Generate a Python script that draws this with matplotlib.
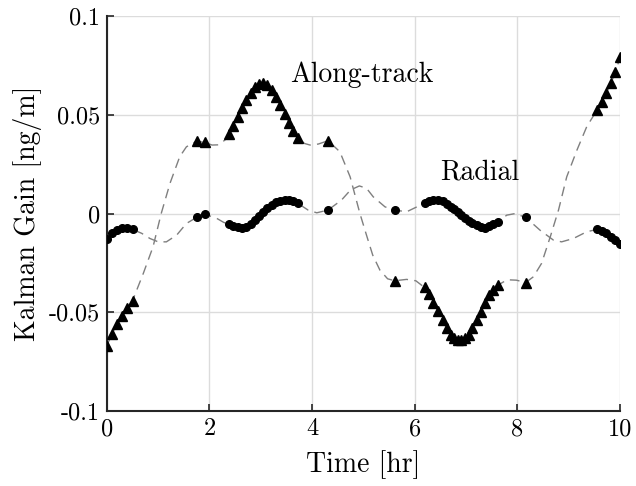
import numpy as np
import matplotlib
matplotlib.use('Agg')
import matplotlib.pyplot as plt


# ============================================================================
# Data (time in hr, gain in ng/m)
# ============================================================================

# times at which the filter had a measurement (markers)
obs_t = [0.0, 0.1, 0.2, 0.3, 0.4, 0.5,
         1.75, 1.91,
         2.38, 2.46, 2.55, 2.63, 2.72, 2.80, 2.88, 2.97, 3.05, 3.13, 3.22,
         3.30, 3.38, 3.47, 3.55, 3.63, 3.72,
         4.31,
         5.61,
         6.19, 6.28, 6.36, 6.45, 6.54, 6.62, 6.71, 6.77, 6.84, 6.90, 6.97,
         7.05, 7.12, 7.21, 7.29, 7.37, 7.45, 7.53, 7.62,
         8.16,
         9.55, 9.64, 9.73, 9.82, 9.91, 10.0]

along_obs = [-0.0668, -0.0610, -0.0557, -0.0518, -0.0480, -0.0441,
             0.0367, 0.0360,
             0.0405, 0.0445, 0.0490, 0.0535, 0.0575, 0.0610, 0.0640, 0.0657,
             0.0660, 0.0650, 0.0625, 0.0590, 0.0550, 0.0505, 0.0460, 0.0420,
             0.0385,
             0.0369,
             -0.0340,
             -0.0374, -0.0408, -0.0452, -0.0492, -0.0539, -0.0581, -0.0615,
             -0.0632, -0.0640, -0.0640, -0.0632, -0.0615, -0.0581, -0.0539,
             -0.0497, -0.0455, -0.0413, -0.0387, -0.0362,
             -0.0349,
             0.0524, 0.0566, 0.0609, 0.0659, 0.0718, 0.0791]

radial_obs = [-0.0131, -0.0100, -0.0084, -0.0075, -0.0072, -0.0080,
              -0.0019, -0.0003,
              -0.0052, -0.0063, -0.0070, -0.0072, -0.0066, -0.0052, -0.0034,
              -0.0012, 0.0010, 0.0030, 0.0046, 0.0058, 0.0066, 0.0070, 0.0068,
              0.0062, 0.0052,
              0.0018,
              0.0018,
              0.0052, 0.0063, 0.0071, 0.0071, 0.0062, 0.0050, 0.0034, 0.0022,
              0.0008, -0.0006, -0.0020, -0.0035, -0.0048, -0.0060, -0.0070,
              -0.0072, -0.0064, -0.0055, -0.0044,
              -0.0019,
              -0.0080, -0.0088, -0.0100, -0.0116, -0.0136, -0.0154]

# gain between the measurement windows (dashed curves)
along_gap_t = [0.71, 0.90, 1.06, 1.23, 1.42, 1.55,
               2.05, 2.17, 2.30,
               3.85, 3.96, 4.12,
               4.54, 4.74, 4.93, 5.06, 5.18, 5.32, 5.47,
               5.84, 6.02,
               7.80, 7.98,
               8.31, 8.47, 8.64, 8.80, 8.96, 9.16, 9.35]
along_gap = [-0.0303, -0.0168, 0.0001, 0.0153, 0.0288, 0.0338,
             0.0347, 0.0348, 0.0372,
             0.0355, 0.0347, 0.0352,
             0.0313, 0.0186, 0.0001, -0.0110, -0.0210, -0.0286, -0.0330,
             -0.0333, -0.0340,
             -0.0335, -0.0337,
             -0.0320, -0.0252, -0.0117, 0.0018, 0.0186, 0.0322, 0.0440]

radial_gap_t = [0.68, 0.84, 1.00, 1.16, 1.36, 1.55,
                2.14, 2.28,
                3.92, 4.09,
                4.57, 4.75, 4.92, 5.06, 5.19, 5.42,
                5.84, 6.04,
                7.79, 7.95,
                8.44, 8.70, 8.86, 9.09, 9.35]
radial_gap = [-0.0100, -0.0126, -0.0143, -0.0143, -0.0109, -0.0050,
              -0.0024, -0.0045,
              0.0018, 0.0004,
              0.0068, 0.0120, 0.0140, 0.0128, 0.0085, 0.0034,
              0.0009, 0.0034,
              -0.0008, 0.0000,
              -0.0084, -0.0134, -0.0143, -0.0126, -0.0092]

x_ticks = [0, 2, 4, 6, 8, 10]
y_ticks = [-0.1, -0.05, 0, 0.05, 0.1]
y_tick_labels = ['-0.1', '-0.05', '0', '0.05', '0.1']


def full_curve(gap_t, gap_v, obs_v):
    # merge the gap points with the measurement points, sorted in time
    t = np.concatenate([gap_t, obs_t])
    v = np.concatenate([gap_v, obs_v])
    order = np.argsort(t)
    return t[order], v[order]


# ============================================================================
# PLOT
# ============================================================================

plt.rcParams['font.family'] = 'serif'
plt.rcParams['font.serif'] = ['cmr10', 'DejaVu Serif']
plt.rcParams['mathtext.fontset'] = 'cm'

fig = plt.figure(figsize=(6.36, 4.86), dpi=100)
ax = fig.add_axes([0.168, 0.154, 0.807, 0.813])

dash_kw = dict(color='#7f7f7f', linewidth=1.0, dashes=(7, 4.5), zorder=2)
t_a, v_a = full_curve(along_gap_t, along_gap, along_obs)
t_r, v_r = full_curve(radial_gap_t, radial_gap, radial_obs)
ax.plot(t_a, v_a, **dash_kw)
ax.plot(t_r, v_r, **dash_kw)

ax.plot(obs_t, along_obs, linestyle='none', marker='^', markersize=6.5,
        color='black', zorder=3)
ax.plot(obs_t, radial_obs, linestyle='none', marker='o', markersize=5.5,
        color='black', zorder=3)

ax.text(3.57, 0.0701, 'Along-track', fontsize=20, va='center', ha='left')
ax.text(6.49, 0.0210, 'Radial', fontsize=20, va='center', ha='left')

ax.set_xlim(0, 10)
ax.set_ylim(-0.1, 0.1)
ax.set_xticks(x_ticks)
ax.set_xticklabels([str(v) for v in x_ticks])
ax.set_yticks(y_ticks)
ax.set_yticklabels(y_tick_labels)
ax.tick_params(direction='in', length=5, width=1.2, labelsize=17.5,
               colors='#262626', labelcolor='black', pad=5)
ax.set_xlabel('Time [hr]', fontsize=20, labelpad=7)
ax.set_ylabel('Kalman Gain [ng/m]', fontsize=20, labelpad=5)

ax.grid(True, color='#dcdcdc', linewidth=1.0)
ax.set_axisbelow(True)
for side in ['top', 'right']:
    ax.spines[side].set_visible(False)
for side in ['left', 'bottom']:
    ax.spines[side].set_linewidth(1.5)
    ax.spines[side].set_color('#262626')

fig.savefig('out.png', dpi=100)
